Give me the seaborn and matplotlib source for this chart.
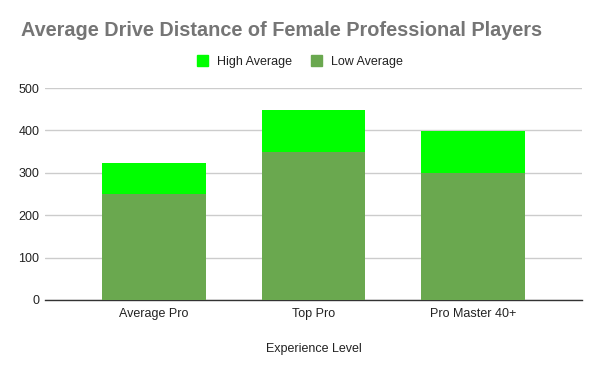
import numpy as np
import pandas as pd
import seaborn as sns
import matplotlib.pyplot as plt
from matplotlib.patches import Patch

levels = ['Average Pro', 'Top Pro', 'Pro Master 40+']
low_avg = [250, 350, 300]
high_avg = [323, 448, 398]

high_color = '#00ff00'
low_color = '#6aa84f'

sns.set_style('white')
plt.rcParams['font.family'] = ['Liberation Sans', 'DejaVu Sans']

df = pd.DataFrame({'level': levels, 'low': low_avg, 'high': high_avg})

fig = plt.figure(figsize=(6, 3.71), dpi=100)
ax = fig.add_axes([0.075, 0.1914, 0.895, 0.5714])

# high average drawn as the full bar, low average over it (stacked look)
sns.barplot(data=df, x='level', y='high', color=high_color, saturation=1,
            width=0.65, ax=ax, zorder=2, linewidth=0)
sns.barplot(data=df, x='level', y='low', color=low_color, saturation=1,
            width=0.65, ax=ax, zorder=3, linewidth=0)

ax.set_xlim(-0.683, 2.683)
ax.set_ylim(0, 500)
ax.set_yticks([0, 100, 200, 300, 400, 500])
ax.yaxis.grid(True, color='#cccccc', linewidth=1)
ax.set_axisbelow(True)
for s in ['top', 'right', 'left']:
    ax.spines[s].set_visible(False)
ax.spines['bottom'].set_color('#333333')
ax.spines['bottom'].set_linewidth(1)
ax.tick_params(axis='both', length=0, labelsize=9, colors='#222222')
ax.tick_params(axis='y', pad=4)
ax.tick_params(axis='x', pad=6)
ax.set_ylabel('')
ax.set_xlabel('Experience Level', fontsize=9, color='#222222', labelpad=16)

fig.text(0.035, 0.919, 'Average Drive Distance of Female Professional Players',
         fontsize=14.3, fontweight='bold', color='#757575', ha='left', va='center')

handles = [Patch(color=high_color, label='High Average'),
           Patch(color=low_color, label='Low Average')]
fig.legend(handles=handles, loc='center', bbox_to_anchor=(0.5, 0.834), ncol=2,
           frameon=False, fontsize=9, handlelength=0.9, handleheight=0.9,
           columnspacing=1.5, handletextpad=0.7, labelcolor='#222222')

plt.savefig('out.png', dpi=100)
